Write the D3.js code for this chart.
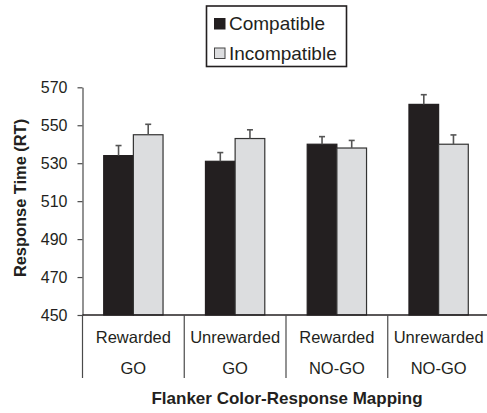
<!DOCTYPE html>
<html>
<head>
<meta charset="utf-8">
<script src="https://cdn.jsdelivr.net/npm/d3@7"></script>
<style>
body { margin: 0; background: #fff; }
text { font-family: "Liberation Sans", Arial, sans-serif; fill: #231f20; }
</style>
</head>
<body>
<script>
// data
var conditions = ["Rewarded|GO", "Unrewarded|GO", "Rewarded|NO-GO", "Unrewarded|NO-GO"];
var seriesNames = ["Compatible", "Incompatible"];
var compatible = [534, 531, 540, 561];
var incompatible = [545, 543, 538, 540];
var compatibleErr = [5.3, 4.6, 4.0, 5.1];
var incompatibleErr = [5.5, 4.6, 4.0, 4.9];
var yTicks = [450, 470, 490, 510, 530, 550, 570];

var width = 487,
	height = 413,
	colorDark = "#231f20",
	colorLight = "#dcdddf",
	axisColor = "#4a4a4a";

// plot edges (window.top is reserved, so use other names)
var plotLeft = 82.5, plotRight = 489.5, plotTop = 87.3, plotBottom = 315;

var svg = d3.select("body")
	.append("svg")
	.attr("width", width)
	.attr("height", height);

var x = d3.scaleBand().domain(conditions).range([plotLeft, plotRight]).paddingInner(0).paddingOuter(0);
var xs = d3.scaleBand().domain(seriesNames).range([0, x.bandwidth()]).paddingInner(0).paddingOuter(0.715);
var y = d3.scaleLinear().domain([450, 570]).range([plotBottom, plotTop]);

var rows = conditions.map(function(c, i) {
	return [
		{ cond: c, s: "Compatible", v: compatible[i], e: compatibleErr[i] },
		{ cond: c, s: "Incompatible", v: incompatible[i], e: incompatibleErr[i] }
	];
});

// bars
var groups = svg.selectAll(".grp")
	.data(rows)
	.enter().append("g")
	.attr("transform", function(d) { return "translate(" + x(d[0].cond) + ",0)"; });

groups.selectAll("rect")
	.data(function(d) { return d; })
	.enter().append("rect")
	.attr("x", function(d) { return xs(d.s); })
	.attr("y", function(d) { return y(d.v); })
	.attr("width", xs.bandwidth())
	.attr("height", function(d) { return plotBottom - y(d.v); })
	.attr("fill", function(d) { return d.s == "Compatible" ? colorDark : colorLight; })
	.attr("stroke", function(d) { return d.s == "Compatible" ? colorDark : "#333"; })
	.attr("stroke-width", 1.2);

// error bars (upper only)
var eb = groups.selectAll(".err")
	.data(function(d) { return d; })
	.enter().append("g")
	.attr("stroke", "#555")
	.attr("stroke-width", 1.6);
eb.append("line")
	.attr("x1", function(d) { return xs(d.s) + xs.bandwidth() / 2; })
	.attr("x2", function(d) { return xs(d.s) + xs.bandwidth() / 2; })
	.attr("y1", function(d) { return y(d.v); })
	.attr("y2", function(d) { return y(d.v + d.e); });
eb.append("line")
	.attr("x1", function(d) { return xs(d.s) + xs.bandwidth() / 2 - 3; })
	.attr("x2", function(d) { return xs(d.s) + xs.bandwidth() / 2 + 3; })
	.attr("y1", function(d) { return y(d.v + d.e); })
	.attr("y2", function(d) { return y(d.v + d.e); });

// y axis
var yAxis = svg.append("g")
	.attr("transform", "translate(" + plotLeft + ",0)")
	.call(d3.axisLeft(y).tickValues(yTicks).tickSize(5).tickPadding(10).tickSizeOuter(0));
yAxis.select(".domain").attr("stroke", axisColor).attr("stroke-width", 1.2);
yAxis.selectAll(".tick line").attr("stroke", axisColor).attr("stroke-width", 1.2);
yAxis.selectAll(".tick text")
	.attr("font-size", 16)
	.attr("font-family", "Liberation Sans, Arial, sans-serif")
	.attr("fill", "#231f20");

// x axis baseline + category separators
svg.append("line")
	.attr("x1", plotLeft).attr("x2", plotRight)
	.attr("y1", plotBottom).attr("y2", plotBottom)
	.attr("stroke", "#231f20").attr("stroke-width", 1.4);

svg.selectAll(".sep")
	.data(conditions)
	.enter().append("line")
	.attr("x1", function(d) { return x(d); })
	.attr("x2", function(d) { return x(d); })
	.attr("y1", plotBottom)
	.attr("y2", 378)
	.attr("stroke", axisColor)
	.attr("stroke-width", 1.2);

// two-row category labels
var cats = svg.selectAll(".cat")
	.data(conditions)
	.enter().append("text")
	.attr("text-anchor", "middle")
	.attr("font-size", 16.5);
cats.append("tspan")
	.attr("x", function(d) { return x(d) + x.bandwidth() / 2; })
	.attr("y", 343)
	.text(function(d) { return d.split("|")[0]; });
cats.append("tspan")
	.attr("x", function(d) { return x(d) + x.bandwidth() / 2; })
	.attr("y", 374)
	.text(function(d) { return d.split("|")[1]; });

// axis titles
svg.append("text")
	.attr("x", 287)
	.attr("y", 404)
	.attr("text-anchor", "middle")
	.attr("font-size", 17)
	.attr("font-weight", "bold")
	.text("Flanker Color-Response Mapping");

svg.append("text")
	.attr("transform", "translate(26,198) rotate(-90)")
	.attr("text-anchor", "middle")
	.attr("font-size", 16.4)
	.attr("font-weight", "bold")
	.text("Response Time (RT)");

// legend
var legend = svg.append("g");
legend.append("rect")
	.attr("x", 206.5).attr("y", 6)
	.attr("width", 140).attr("height", 60.5)
	.attr("fill", "none")
	.attr("stroke", "#231f20")
	.attr("stroke-width", 1.6);

var items = legend.selectAll(".item")
	.data(seriesNames)
	.enter().append("g")
	.attr("transform", function(d, i) { return "translate(0," + (i * 29.5) + ")"; });
items.append("rect")
	.attr("x", 214.5).attr("y", 18.5)
	.attr("width", 10.5).attr("height", 10.5)
	.attr("fill", function(d, i) { return i == 0 ? colorDark : colorLight; })
	.attr("stroke", function(d, i) { return i == 0 ? colorDark : "#444"; })
	.attr("stroke-width", 1);
items.append("text")
	.attr("x", 229)
	.attr("y", 30)
	.attr("font-size", 19)
	.text(function(d) { return d; });
</script>
</body>
</html>
